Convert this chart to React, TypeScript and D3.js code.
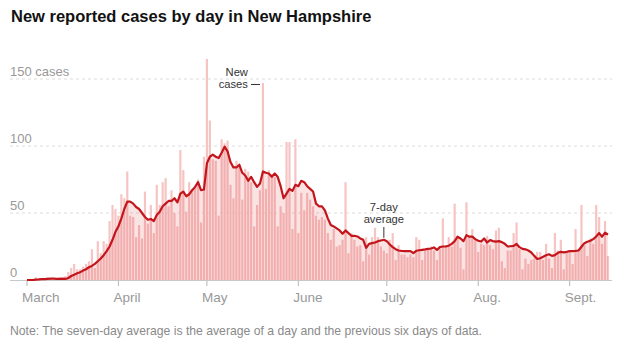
import React, { useRef, useEffect } from 'react';
import * as d3 from 'd3';

// first day of the series
const startDate = new Date(2020, 2, 1);

// new reported cases per day, Mar 1 -> Sep 14
const dailyCases = [
  // March
  0, 0, 0, 2, 1, 1, 0, 2, 1, 0, 1, 2, 1,
  3, 6, 9, 12, 8, 8, 10, 12, 14, 23, 9, 29, 20, 29, 27, 44, 56, 53,
  // April
  48, 64, 61, 81, 48, 47, 32, 41, 31, 66, 42, 56, 35, 71, 56,
  73, 76, 55, 67, 50, 40, 97, 82, 51, 73, 68, 70, 75, 43, 92,
  // May
  165, 119, 90, 89, 48, 105, 102, 104, 71, 61, 89, 86, 60, 83, 81, 73,
  40, 56, 67, 147, 68, 82, 79, 77, 40, 55, 50, 103, 103, 38, 105,
  // June
  35, 65, 52, 65, 60, 55, 48, 45, 47, 45, 35, 30, 38, 25, 26,
  30, 73, 20, 35, 30, 25, 26, 14, 32, 19, 32, 39, 32, 25, 22,
  // July
  20, 30, 35, 15, 26, 19, 19, 17, 19, 17, 32, 30, 15, 22, 24, 25,
  22, 15, 23, 46, 26, 32, 25, 57, 32, 24, 8, 58, 32, 38, 30,
  // August
  21, 27, 26, 33, 26, 23, 37, 39, 14, 9, 22, 22, 35, 43, 23, 8,
  16, 12, 15, 16, 21, 21, 15, 27, 16, 9, 35, 22, 30, 8, 20,
  // September
  21, 12, 38, 23, 56, 26, 18, 31, 27, 56, 47, 27, 44, 18,
];

// 7-day average as drawn in the chart
const sevenDayAvg = [
  // March
  0, 0, 0, 0.3, 0.4, 0.6, 0.7, 0.9, 1, 1, 0.9, 0.9, 1,
  0.8, 1.5, 3, 4, 5, 5.8, 7, 8, 9.5, 10.5, 12, 14, 16, 18.5, 21.5, 25, 30, 36,
  // April
  40, 46, 53, 58.5, 58.5, 57, 54.5, 53, 50, 47, 45, 45.5, 44, 48.5, 51,
  55, 57, 59, 59, 61, 58, 64.5, 66, 62.5, 64, 67, 69.5, 73, 67, 67.5,
  // May
  87, 92, 93.5, 92, 91, 95, 99.5, 96, 88, 84, 84, 86, 80, 78, 74, 77,
  73, 69.5, 72, 81, 80, 79.5, 77, 79.5, 77, 70, 61, 64.5, 68, 66.5, 71,
  // June
  70, 74, 73, 70, 68, 66, 57, 55, 55, 52, 46, 41, 40, 38.5, 37,
  34.5, 37, 35, 33, 33, 32.5, 31, 30, 24, 27, 27.5, 28, 29, 29.5, 30,
  // July
  29, 26.5, 24.5, 23, 22, 21.7, 21.6, 21.6, 21.5, 20, 21.8, 22.2, 22.5, 22.8, 23.2, 23.5,
  24.3, 22.5, 24.5, 25, 25, 25.6, 27, 29, 32.3, 31, 29, 33.5, 32.3, 32.3, 30.5,
  // August
  29.3, 28.7, 31, 28, 29.8, 29, 28.6, 29, 28.3, 27, 25, 25.2, 25.4, 26.9, 24.5, 23.2,
  22.9, 22, 20.5, 18, 15.7, 16.2, 17.3, 18.5, 19.2, 18, 18.6, 20.3, 21, 20.6, 21,
  // September
  21.6, 21.6, 21.7, 22, 24.8, 27.5, 28.6, 29.3, 30.5, 32.5, 35, 32.3, 35.3, 34,
];

const yTicks = [0, 50, 100, 150];
const monthStarts = [
  new Date(2020, 2, 1), new Date(2020, 3, 1), new Date(2020, 4, 1), new Date(2020, 5, 1),
  new Date(2020, 6, 1), new Date(2020, 7, 1), new Date(2020, 8, 1),
];
const monthLabels = ['March', 'April', 'May', 'June', 'July', 'Aug.', 'Sept.'];

const WIDTH = 626;
const HEIGHT = 354;
const FONT = '"Liberation Sans", Arial, sans-serif';

export default function App() {
  const svgRef = useRef<SVGSVGElement | null>(null);

  useEffect(() => {
    if (!svgRef.current) return;
    const svg = d3.select(svgRef.current);
    svg.selectAll('*').remove();

    const dates = dailyCases.map((_, i) => d3.timeDay.offset(startDate, i));
    const x = d3.scaleTime()
      .domain([startDate, dates[dates.length - 1]])
      .range([27, 608]);
    const y = d3.scaleLinear().domain([0, 150]).range([280, 79]);
    const barW = 2.2;

    // Title
    svg.append('text')
      .attr('x', 11)
      .attr('y', 22)
      .attr('font-family', FONT)
      .attr('font-weight', 700)
      .attr('font-size', 16.5)
      .attr('fill', '#121212')
      .text('New reported cases by day in New Hampshire');

    // Grid lines
    svg.append('g')
      .selectAll('line')
      .data(yTicks.filter(d => d > 0))
      .enter()
      .append('line')
      .attr('x1', 10)
      .attr('x2', 612)
      .attr('y1', d => y(d))
      .attr('y2', d => y(d))
      .attr('stroke', '#dcdcdc')
      .attr('stroke-dasharray', '3,3');

    // Y labels
    svg.append('g')
      .selectAll('text')
      .data(yTicks)
      .enter()
      .append('text')
      .attr('x', 10)
      .attr('y', d => y(d) - 3.5)
      .attr('font-family', FONT)
      .attr('font-size', 13)
      .attr('fill', '#999')
      .text(d => (d === 150 ? '150 cases' : String(d)));

    // Bars
    svg.append('g')
      .selectAll('rect')
      .data(dailyCases)
      .enter()
      .append('rect')
      .attr('x', (_, i) => x(dates[i]) - barW / 2)
      .attr('width', barW)
      .attr('y', d => y(d))
      .attr('height', d => y(0) - y(d))
      .attr('fill', '#f7c4c4');

    // Area under average
    const area = d3.area<number>()
      .x((_, i) => x(dates[i]))
      .y0(y(0))
      .y1(d => y(d));
    svg.append('path')
      .datum(sevenDayAvg)
      .attr('d', area)
      .attr('fill', 'rgba(214, 39, 40, 0.13)');

    // Baseline
    svg.append('line')
      .attr('x1', 10)
      .attr('x2', 612)
      .attr('y1', y(0) + 0.5)
      .attr('y2', y(0) + 0.5)
      .attr('stroke', '#c8c8c8');

    // Average line
    const line = d3.line<number>()
      .x((_, i) => x(dates[i]))
      .y(d => y(d));
    svg.append('path')
      .datum(sevenDayAvg)
      .attr('d', line)
      .attr('fill', 'none')
      .attr('stroke', '#c3161c')
      .attr('stroke-width', 2.2)
      .attr('stroke-linejoin', 'round');

    // X ticks and labels
    const xg = svg.append('g');
    xg.selectAll('line')
      .data(monthStarts)
      .enter()
      .append('line')
      .attr('x1', d => x(d))
      .attr('x2', d => x(d))
      .attr('y1', 281)
      .attr('y2', 286)
      .attr('stroke', '#b5b5b5');
    xg.selectAll('text')
      .data(monthStarts)
      .enter()
      .append('text')
      .attr('x', d => x(d) - 5)
      .attr('y', 302)
      .attr('font-family', FONT)
      .attr('font-size', 13.5)
      .attr('fill', '#999')
      .text((_, i) => monthLabels[i]);

    // Annotation: New cases
    const spikeDate = dates[80];
    const ann1 = svg.append('g')
      .attr('font-family', FONT)
      .attr('font-size', 11.2)
      .attr('fill', '#333');
    ann1.append('text').attr('x', x(spikeDate) - 15).attr('y', 76).attr('text-anchor', 'end').text('New');
    ann1.append('text').attr('x', x(spikeDate) - 15).attr('y', 88).attr('text-anchor', 'end').text('cases');
    ann1.append('line')
      .attr('x1', x(spikeDate) - 12)
      .attr('x2', x(spikeDate) - 3)
      .attr('y1', 84.5)
      .attr('y2', 84.5)
      .attr('stroke', '#333');

    // Annotation: 7-day average
    const avgIdx = 121;
    const ax = x(dates[avgIdx]);
    const ann2 = svg.append('g')
      .attr('font-family', FONT)
      .attr('font-size', 11.2)
      .attr('fill', '#333')
      .attr('text-anchor', 'middle');
    ann2.append('text').attr('x', ax).attr('y', 211).text('7-day');
    ann2.append('text').attr('x', ax).attr('y', 223).text('average');
    ann2.append('line')
      .attr('x1', ax)
      .attr('x2', ax)
      .attr('y1', 227)
      .attr('y2', y(sevenDayAvg[avgIdx]) - 2)
      .attr('stroke', '#333');

    // Note
    svg.append('text')
      .attr('x', 10)
      .attr('y', 335)
      .attr('font-family', FONT)
      .attr('font-size', 12.2)
      .attr('fill', '#8a8a8a')
      .text('Note: The seven-day average is the average of a day and the previous six days of data.');
  }, []);

  return (
    <svg
      ref={svgRef}
      width={WIDTH}
      height={HEIGHT}
      style={{ position: 'absolute', left: 0, top: 0, background: '#fff' }}
    />
  );
}
